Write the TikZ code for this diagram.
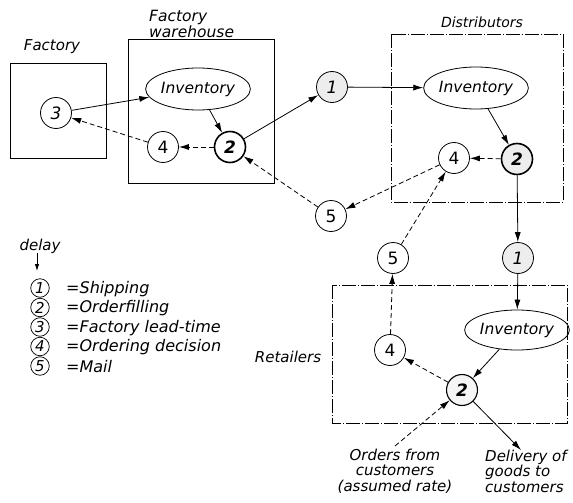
\documentclass[tikz,border=0pt]{standalone}
\usepackage{fontspec}
\setmainfont{DejaVu Sans}
\usetikzlibrary{arrows.meta,shapes.geometric}
\begin{document}
\begin{tikzpicture}[x=1pt,y=-1pt,
  lbl/.style={font=\fontsize{15}{12}\selectfont\itshape, inner sep=0pt},
  dly/.style={circle, draw, line width=0.8pt, minimum size=31pt, inner sep=0pt, font=\fontsize{17}{17}\selectfont},
  shp/.style={dly, fill=gray!14, font=\fontsize{17}{17}\selectfont\itshape},
  ordf/.style={dly, line width=1.6pt, font=\fontsize{17}{17}\selectfont\itshape\bfseries},
  inv/.style={ellipse, draw, line width=0.8pt, minimum width=88pt, minimum height=42pt, inner sep=0pt, font=\fontsize{15.5}{15.5}\selectfont\itshape},
  leg/.style={circle, draw, line width=0.7pt, minimum size=18.5pt, inner sep=0pt, font=\fontsize{15}{15}\selectfont\itshape},
  box/.style={draw, line width=0.8pt},
  ddbox/.style={draw, line width=0.7pt, dash pattern=on 14pt off 2pt on 1pt off 2pt},
  flow/.style={line width=0.8pt, -{Latex[length=10pt,width=6pt]}},
  info/.style={flow, dash pattern=on 5pt off 3pt},
]
\useasboundingbox (0,0) rectangle (573,503);
% boxes
\draw[box] (10,63) rectangle (106,158);
\draw[box] (128,39) rectangle (274,183);
\draw[ddbox] (391,34) rectangle (563,202);
\draw[ddbox] (332,285) rectangle (567,423);
% labels
\node[lbl] (lfac) at (52,47) {Factory};
\node[lbl, align=left, anchor=north west, font=\fontsize{15.5}{12}\selectfont\itshape] (lwh) at (149,10) {Factory\\warehouse};
\node[lbl, font=\fontsize{14}{12}\selectfont\itshape] (ldis) at (482,22) {Distributors};
\node[lbl] (lret) at (288,357) {Retailers};
% nodes
\node[dly, font=\fontsize{17}{17}\selectfont\itshape] (fac3) at (56,113) {3};
\node[inv] (wInv) at (198,89) {Inventory};
\node[dly] (w4) at (163,147) {4};
\node[ordf] (w2) at (230,147) {2};
\node[shp] (s1) at (332,87) {1};
\node[inv] (dInv) at (476,88) {Inventory};
\node[ordf, fill=gray!14] (d2) at (517,159) {2};
\node[dly] (d4) at (454,158) {4};
\node[dly] (m5) at (331,216) {5};
\node[dly] (r5) at (393,258) {5};
\node[shp] (r1) at (518,258) {1};
\node[inv, minimum height=40pt] (rInv) at (517,330) {Inventory};
\node[dly] (r4) at (390,350) {4};
\node[ordf, line width=1.1pt, fill=gray!8] (r2) at (462,390) {2};
\node[lbl, align=center, font=\fontsize{15}{15.5}\selectfont\itshape] (orders) at (395,471) {Orders from\\customers\\(assumed rate)};
\node[lbl, align=left, anchor=west, font=\fontsize{15}{15.5}\selectfont\itshape] (deliv) at (485,471) {Delivery of\\goods to\\customers};
\coordinate (ordS) at (395,446);
\coordinate (delE) at (521,450);
% material flows
\draw[flow] (fac3) -- (wInv);
\draw[flow] (wInv) -- (w2);
\draw[flow] (w2) -- (s1);
\draw[flow] (s1) -- (dInv);
\draw[flow] (dInv) -- (d2);
\draw[flow] (d2) -- (r1);
\draw[flow] (r1) -- (rInv);
\draw[flow] (rInv) -- (r2);
\draw[flow] (r2) -- (delE);
% information flows
\draw[info] (w2) -- (w4);
\draw[info] (w4) -- (fac3);
\draw[info] (d2) -- (d4);
\draw[info] (d4) -- (m5);
\draw[info] (m5) -- (w2);
\draw[info] (r2) -- (r4);
\draw[info] (r4) -- (r5);
\draw[info] (r5) -- (d4);
\draw[info] (ordS) -- (r2);
% legend
\node[lbl] (delay) at (40,246) {delay};
\coordinate (delayE) at (37,271);
\draw[line width=0.8pt, -{Latex[length=7pt,width=4.5pt]}] (37,253) -- (delayE);
\node[leg] (g1) at (40,288) {1};
\node[leg] (g2) at (40,307.5) {2};
\node[leg] (g3) at (40,327) {3};
\node[leg] (g4) at (40,346.5) {4};
\node[leg] (g5) at (40,366) {5};
\node[lbl, anchor=west, font=\fontsize{16}{12}\selectfont\itshape] (t1) at (66,289) {=Shipping};
\node[lbl, anchor=west, font=\fontsize{16}{12}\selectfont\itshape] (t2) at (66,308.5) {=Orderfilling};
\node[lbl, anchor=west, font=\fontsize{16}{12}\selectfont\itshape] (t3) at (66,328) {=Factory lead-time};
\node[lbl, anchor=west, font=\fontsize{16}{12}\selectfont\itshape] (t4) at (66,347.5) {=Ordering decision};
\node[lbl, anchor=west, font=\fontsize{16}{12}\selectfont\itshape] (t5) at (66,367) {=Mail};
\end{tikzpicture}
\end{document}
